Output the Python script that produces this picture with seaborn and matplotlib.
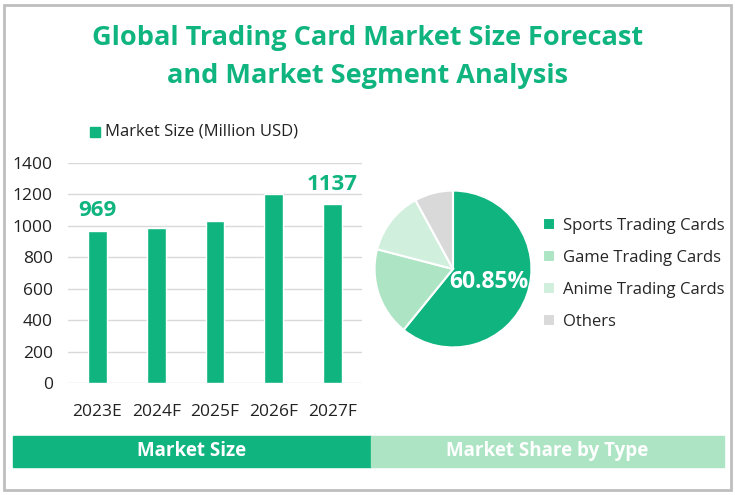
import matplotlib
matplotlib.use('Agg')
import matplotlib.pyplot as plt
import seaborn as sns
import pandas as pd
from matplotlib.patches import Rectangle

years = ['2023E', '2024F', '2025F', '2026F', '2027F']
market_size = [969, 985, 1028, 1200, 1137]
labelled = {0: '969', 4: '1137'}

segments = ['Sports Trading Cards', 'Game Trading Cards', 'Anime Trading Cards', 'Others']
shares = [60.85, 18.2, 13.0, 7.95]

green = '#10B47F'
seg_colors = ['#10B47F', '#ADE5C4', '#D0EFDD', '#D9D9D9']

sns.set_style('white')
plt.rcParams['font.family'] = ['Open Sans', 'DejaVu Sans']

fig = plt.figure(figsize=(7.35, 4.95), dpi=100)

# frame
fig.patches.append(Rectangle((4/735, 5/495), 727/735, 485/495, transform=fig.transFigure,
                             fill=False, edgecolor='#BFBFBF', linewidth=2))

fig.text(0.5, (495-38)/495, 'Global Trading Card Market Size Forecast', ha='center', va='center',
         fontsize=19.5, fontweight='bold', color=green)
fig.text(0.5, (495-76)/495, 'and Market Segment Analysis', ha='center', va='center',
         fontsize=19.5, fontweight='bold', color=green)

# bar chart
ax = fig.add_axes([68/735, 112/495, 294/735, 220/495])
df = pd.DataFrame({'year': years, 'size': market_size})
sns.barplot(data=df, x='year', y='size', color=green, width=0.32, saturation=1, ax=ax)
ax.set_ylim(0, 1400)
ax.set_yticks(range(0, 1401, 200))
ax.yaxis.grid(True, color='#D9D9D9', linewidth=1)
ax.set_axisbelow(True)
for s in ax.spines.values():
    s.set_visible(False)
ax.set_xlabel('')
ax.set_ylabel('')
ax.tick_params(axis='both', labelsize=12.5, colors='#222222', length=0)
ax.tick_params(axis='x', pad=15)
ax.tick_params(axis='y', pad=11)
for i, t in labelled.items():
    ax.text(i, market_size[i] + 60, t, ha='center', va='bottom', fontsize=16,
            fontweight='bold', color=green)
fig.patches.append(Rectangle((90/735, (495-137)/495), 10/735, 10/495, transform=fig.transFigure,
                             color=green))
fig.text(105/735, (495-132)/495, 'Market Size (Million USD)', ha='left', va='center',
         fontsize=12, color='#222222')

# pie chart
pax = fig.add_axes([373/735, (495-349)/495, 160/735, 160/495])
wedges, _ = pax.pie(shares, colors=seg_colors, startangle=90, counterclock=False,
                    wedgeprops=dict(edgecolor='white', linewidth=1.5))
pax.set_xlim(-1.02, 1.02)
pax.set_ylim(-1.02, 1.02)
pax.set_aspect('equal')
pax.text(0.46, -0.17, f'{shares[0]:.2f}%', ha='center', va='center', fontsize=16.5,
         fontweight='bold', color='white')
pax.legend(wedges, segments, loc='center left', bbox_to_anchor=(0.97, 0.47), frameon=False,
           fontsize=12, handlelength=0.7, handleheight=0.7, handletextpad=0.5,
           labelspacing=0.95)

# bottom banners
fig.patches.append(Rectangle((13/735, (495-467)/495), 358/735, 31/495,
                             transform=fig.transFigure, color=green))
fig.patches.append(Rectangle((371/735, (495-467)/495), 353/735, 31/495,
                             transform=fig.transFigure, color='#ADE5C4'))
fig.text(192/735, (495-451)/495, 'Market Size', ha='center', va='center', fontsize=13.5,
         fontweight='bold', color='white')
fig.text(547/735, (495-451)/495, 'Market Share by Type', ha='center', va='center', fontsize=13.5,
         fontweight='bold', color='white')

fig.savefig('out.png', dpi=100)
